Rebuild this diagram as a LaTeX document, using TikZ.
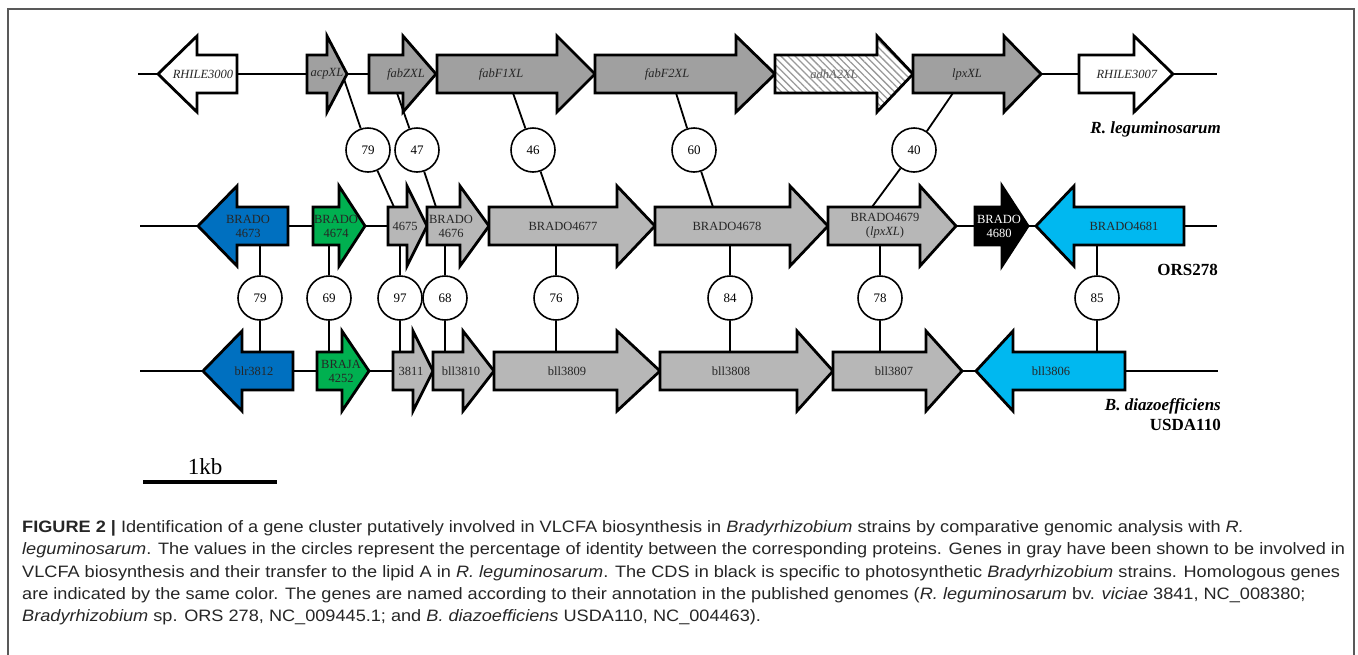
\documentclass[tikz,border=0pt]{standalone}
\usepackage{fontspec}
\setmainfont{Liberation Serif}
\newfontfamily\capfont[FakeStretch=1.1]{Liberation Sans}
\usetikzlibrary{patterns.meta}

\definecolor{rlgray}{RGB}{160,160,160}
\definecolor{brgray}{RGB}{183,183,183}
\definecolor{brblue}{RGB}{0,112,192}
\definecolor{brgreen}{RGB}{0,176,80}
\definecolor{brcyan}{RGB}{0,184,240}

% gene arrow: name, start, head base, tip, row y, style, label x, label
\newcommand{\gene}[8]{%
  \draw[genebox,#6] (#2,#5-19) -- (#3,#5-19) -- (#3,#5-\hh) -- (#4,#5)
    -- (#3,#5+\hh) -- (#3,#5+19) -- (#2,#5+19) -- cycle;
  \node[genelabel] (#1) at (#7,#5) {#8};}
\def\hh{38}

\begin{document}
\begin{tikzpicture}[x=1pt,y=-1pt,
        genebox/.style={draw=black,line width=2.8pt,line join=miter},
        genelabel/.style={font=\fontsize{12.5}{14}\selectfont,text=black!85,align=center,inner sep=0pt},
        ident/.style={draw,circle,line width=1.6pt,fill=white,minimum size=44pt,inner sep=0pt,font=\fontsize{13}{15}\selectfont},
        link/.style={line width=1.8pt},
        strain/.style={font=\fontsize{17}{20}\selectfont\bfseries,align=right,inner sep=0pt,anchor=east},
        capline/.style={font=\capfont\fontsize{16.5}{22}\selectfont,text=black!85,anchor=base west,inner sep=0pt}]

    \useasboundingbox (0,0) rectangle (1358,654);
    \draw[black!65,line width=1.3pt] (8,9) rectangle (1354,700);

    % backbones
    \coordinate (r1w) at (138,74);  \coordinate (r1e) at (1217,74);
    \coordinate (r2w) at (140,226); \coordinate (r2e) at (1217,226);
    \coordinate (r3w) at (140,371); \coordinate (r3e) at (1218,371);
    \draw[link] (r1w) -- (r1e);
    \draw[link] (r2w) -- (r2e);
    \draw[link] (r3w) -- (r3e);

    % R. leguminosarum
    \gene{RHILE3000}{237}{197}{158}{74}{fill=white}{203}{\textit{RHILE3000}}
    \gene{acpXL}{307}{327}{347}{74}{fill=rlgray}{327}{\textit{acpXL}}
    \gene{fabZXL}{369}{403}{436}{74}{fill=rlgray}{406}{\textit{fabZXL}}
    \gene{fabFoneXL}{437}{557}{595}{74}{fill=rlgray}{501}{\textit{fabF1XL}}
    \gene{fabFtwoXL}{595}{736}{775}{74}{fill=rlgray}{667}{\textit{fabF2XL}}
    \gene{adhAtwoXL}{775}{877}{913}{74}{preaction={fill=white},pattern={Lines[angle=-45,distance=5pt,line width=1.3pt]},pattern color=black!40}{834}{\textcolor{black!60}{\textit{adhA2XL}}}
    \gene{lpxXL}{913}{1004}{1041}{74}{fill=rlgray}{967}{\textit{lpxXL}}
    \gene{RHILE3007}{1079}{1134}{1173}{74}{fill=white}{1127}{\textit{RHILE3007}}
    \node[strain] (rleg) at (1221,129) {\textit{R. leguminosarum}};

    % ORS278
    \def\hh{40}
    \gene{BRADO4673}{288}{237}{198}{226}{fill=brblue}{248}{BRADO\\4673}
    \gene{BRADO4674}{313}{339}{365}{226}{fill=brgreen}{336}{BRADO\\4674}
    \gene{BRADO4675}{388}{407}{427}{226}{fill=brgray}{405}{4675}
    \gene{BRADO4676}{427}{460}{489}{226}{fill=brgray}{451}{BRADO\\4676}
    \gene{BRADO4677}{489}{617}{655}{226}{fill=brgray}{563}{BRADO4677}
    \gene{BRADO4678}{655}{790}{828}{226}{fill=brgray}{727}{BRADO4678}
    \gene{BRADO4679}{828}{920}{956}{226}{fill=brgray}{885}{BRADO4679\\(\textit{lpxXL})}
    \gene{BRADO4680}{975}{1002}{1028}{226}{fill=black}{999}{\textcolor{white}{BRADO}\\\textcolor{white}{4680}}
    \gene{BRADO4681}{1184}{1074}{1036}{226}{fill=brcyan}{1124}{BRADO4681}
    \node[strain] (ors) at (1218,270) {ORS278};

    % B. diazoefficiens USDA110
    \gene{blr3812}{293}{242}{203}{371}{fill=brblue}{254}{blr3812}
    \gene{BRAJA4252}{317}{342}{369}{371}{fill=brgreen}{341}{BRAJA\\4252}
    \gene{bll3811}{393}{413}{433}{371}{fill=brgray}{411}{3811}
    \gene{bll3810}{433}{463}{494}{371}{fill=brgray}{461}{bll3810}
    \gene{bll3809}{494}{617}{660}{371}{fill=brgray}{567}{bll3809}
    \gene{bll3808}{660}{797}{833}{371}{fill=brgray}{731}{bll3808}
    \gene{bll3807}{833}{926}{962}{371}{fill=brgray}{894}{bll3807}
    \gene{bll3806}{1125}{1013}{976}{371}{fill=brcyan}{1051}{bll3806}
    \node[strain] (usda) at (1221,415) {\textit{B. diazoefficiens}\\USDA110};

    % identities R. leguminosarum - ORS278
    \coordinate (acpXL-b) at (344,79);     \coordinate (BRADO4675-t) at (394,207);
    \coordinate (fabZXL-b) at (397,93);    \coordinate (BRADO4676-t) at (436,207);
    \coordinate (fabFoneXL-b) at (513,93); \coordinate (BRADO4677-t) at (553,207);
    \coordinate (fabFtwoXL-b) at (676,93); \coordinate (BRADO4678-t) at (713,207);
    \coordinate (lpxXL-b) at (953,93);     \coordinate (BRADO4679-t) at (872,207);
    \node[ident] (id79a) at (368,150) {79};
    \node[ident] (id47) at (417,150) {47};
    \node[ident] (id46) at (533,150) {46};
    \node[ident] (id60) at (694,150) {60};
    \node[ident] (id40) at (914,150) {40};
    \draw[link] (acpXL-b) -- (id79a) -- (BRADO4675-t);
    \draw[link] (fabZXL-b) -- (id47) -- (BRADO4676-t);
    \draw[link] (fabFoneXL-b) -- (id46) -- (BRADO4677-t);
    \draw[link] (fabFtwoXL-b) -- (id60) -- (BRADO4678-t);
    \draw[link] (lpxXL-b) -- (id40) -- (BRADO4679-t);

    % identities ORS278 - USDA110
    \coordinate (BRADO4673-b) at (260,245); \coordinate (blr3812-t) at (260,352);
    \coordinate (BRADO4674-b) at (329,245); \coordinate (BRAJA4252-t) at (329,352);
    \coordinate (BRADO4675-b) at (400,245); \coordinate (bll3811-t) at (400,352);
    \coordinate (BRADO4676-b) at (445,245); \coordinate (bll3810-t) at (445,352);
    \coordinate (BRADO4677-b) at (556,245); \coordinate (bll3809-t) at (556,352);
    \coordinate (BRADO4678-b) at (730,245); \coordinate (bll3808-t) at (730,352);
    \coordinate (BRADO4679-b) at (880,245); \coordinate (bll3807-t) at (880,352);
    \coordinate (BRADO4681-b) at (1097,245); \coordinate (bll3806-t) at (1097,352);
    \node[ident] (id79b) at (260,298) {79};
    \node[ident] (id69) at (329,298) {69};
    \node[ident] (id97) at (400,298) {97};
    \node[ident] (id68) at (445,298) {68};
    \node[ident] (id76) at (556,298) {76};
    \node[ident] (id84) at (730,298) {84};
    \node[ident] (id78) at (880,298) {78};
    \node[ident] (id85) at (1097,298) {85};
    \draw[link] (BRADO4673-b) -- (id79b) -- (blr3812-t);
    \draw[link] (BRADO4674-b) -- (id69) -- (BRAJA4252-t);
    \draw[link] (BRADO4675-b) -- (id97) -- (bll3811-t);
    \draw[link] (BRADO4676-b) -- (id68) -- (bll3810-t);
    \draw[link] (BRADO4677-b) -- (id76) -- (bll3809-t);
    \draw[link] (BRADO4678-b) -- (id84) -- (bll3808-t);
    \draw[link] (BRADO4679-b) -- (id78) -- (bll3807-t);
    \draw[link] (BRADO4681-b) -- (id85) -- (bll3806-t);

    % scale bar
    \coordinate (kbw) at (143,482); \coordinate (kbe) at (277,482);
    \draw[line width=4pt] (kbw) -- (kbe);
    \node[font=\fontsize{23}{26}\selectfont,inner sep=0pt] (kb) at (205,467) {1kb};

    % caption
    \node[capline] (cap1) at (22,532.5) {\textbf{FIGURE 2 |} Identification of a gene cluster putatively involved in VLCFA biosynthesis in \textit{Bradyrhizobium} strains by comparative genomic analysis with \textit{R.}};
    \node[capline] (cap2) at (22,554.8) {\textit{leguminosarum}. The values in the circles represent the percentage of identity between the corresponding proteins. Genes in gray have been shown to be involved in};
    \node[capline] (cap3) at (22,577.1) {VLCFA biosynthesis and their transfer to the lipid A in \textit{R. leguminosarum}. The CDS in black is specific to photosynthetic \textit{Bradyrhizobium} strains. Homologous genes};
    \node[capline] (cap4) at (22,599.4) {are indicated by the same color. The genes are named according to their annotation in the published genomes (\textit{R. leguminosarum} bv. \textit{viciae} 3841, NC\_008380;};
    \node[capline] (cap5) at (22,621.7) {\textit{Bradyrhizobium} sp. ORS 278, NC\_009445.1; and \textit{B. diazoefficiens} USDA110, NC\_004463).};
\end{tikzpicture}
\end{document}
